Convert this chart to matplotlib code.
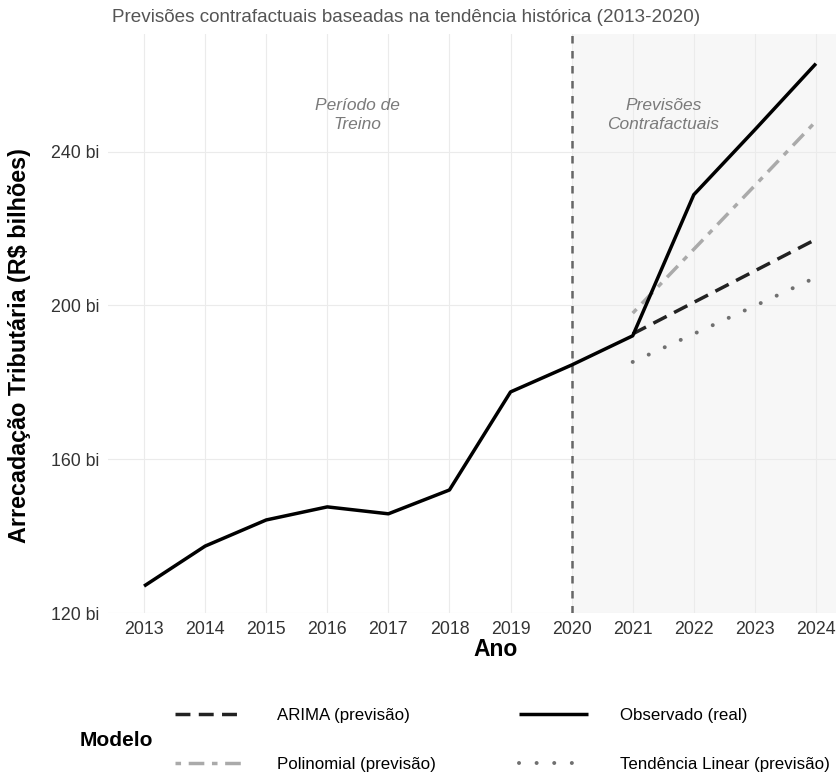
import matplotlib
matplotlib.use("Agg")
import matplotlib.pyplot as plt

plt.rcParams['font.family'] = ['Liberation Sans', 'DejaVu Sans']

# ---- data ----
years_obs = [2013, 2014, 2015, 2016, 2017, 2018, 2019, 2020, 2021, 2022, 2023, 2024]
observed = [127.0, 137.4, 144.2, 147.6, 145.8, 152.0, 177.5, 184.5, 192.1, 228.8, 245.7, 262.9]
years_fc = [2021, 2022, 2023, 2024]
arima = [192.6, 200.8, 209.0, 217.2]
polinomial = [198.0, 214.6, 231.2, 247.9]
linear = [185.3, 192.6, 199.9, 207.3]
y_ticks = [120, 160, 200, 240]
y_tick_labels = ["120 bi", "160 bi", "200 bi", "240 bi"]
subtitle = "Previsões contrafactuais baseadas na tendência histórica (2013-2020)"
cutoff_year = 2020

W, H = 836, 776
fig = plt.figure(figsize=(W / 100, H / 100), dpi=100)
fig.patch.set_facecolor("white")

px_l, px_r, px_t, px_b = 108, 852, 34, 613
ax = fig.add_axes([px_l / W, 1 - px_b / H, (px_r - px_l) / W, (px_b - px_t) / H])
ax.set_xlim(2012.41, 2024.59)
ax.set_ylim(120, 270.6)

# shaded forecast region
ax.axvspan(cutoff_year, 2030, color="#f7f7f7", zorder=0, lw=0)

# grid
for x in years_obs:
    ax.axvline(x, color="#ebebeb", lw=0.8, zorder=0.5)
for y in y_ticks:
    ax.axhline(y, color="#ebebeb", lw=0.8, zorder=0.5)

# cutoff line
ax.axvline(cutoff_year, color="#666666", lw=1.8, dashes=(3.0, 3.0), zorder=2)

lw = 2.5
l_arima, = ax.plot(years_fc, arima, color="#222222", lw=lw, dashes=(4.3, 2.4), zorder=3,
                   label="ARIMA (previsão)")
l_poly, = ax.plot(years_fc, polinomial, color="#aaaaaa", lw=lw, dashes=(1.6, 2.2, 4.5, 2.2), zorder=3,
                  label="Polinomial (previsão)")
l_lin, = ax.plot(years_fc, linear, color="#707070", lw=lw * 1.15, dashes=(0.01, 4.4),
                 dash_capstyle="round", zorder=3, label="Tendência Linear (previsão)")
l_obs, = ax.plot(years_obs, observed, color="#000000", lw=lw, zorder=4,
                 solid_capstyle="butt", label="Observado (real)")

# annotations
ax.text(2016.5, 249.5, "Período de\nTreino", ha="center", va="center", style="italic",
        color="#7a7a7a", fontsize=12.5, linespacing=1.35)
ax.text(2021.5, 249.5, "Previsões\nContrafactuais", ha="center", va="center", style="italic",
        color="#7a7a7a", fontsize=12.5, linespacing=1.35)

ax.set_xticks(years_obs)
ax.set_xticklabels([str(y) for y in years_obs])
ax.set_yticks(y_ticks)
ax.set_yticklabels(y_tick_labels)
ax.tick_params(axis="both", length=0, labelsize=12.8, labelcolor="#333333", pad=6)
for s in ax.spines.values():
    s.set_visible(False)
ax.set_facecolor("none")

ax.set_xlabel("Ano", fontsize=16.5, fontweight="bold")
ax.xaxis.set_label_coords((496 - px_l) / (px_r - px_l), -(650 - px_b) / (px_b - px_t))
ax.set_ylabel("Arrecadação Tributária (R$ bilhões)", fontsize=16.8, fontweight="bold")
ax.yaxis.set_label_coords(-(px_l - 20) / (px_r - px_l), (px_b - 346) / (px_b - px_t))
ax.xaxis.label.set_va("center")
ax.yaxis.label.set_va("center")

fig.text(112 / W, 1 - 18 / H, subtitle, ha="left", va="center", fontsize=13.6, color="#555555")

# legend
fig.text(80 / W, 1 - 740 / H, "Modelo", ha="left", va="center", fontsize=15, fontweight="bold")
handles = [l_arima, l_poly, l_obs, l_lin]
leg = fig.legend(handles=handles, labels=[h.get_label() for h in handles], ncol=2,
                 frameon=False, fontsize=12.2, handlelength=4.1, handletextpad=1.9,
                 columnspacing=4.9, labelspacing=2.05, borderaxespad=0, borderpad=0,
                 loc="center left", bbox_to_anchor=(175 / W, 1 - 740 / H))

fig.savefig("out.png", dpi=100)
